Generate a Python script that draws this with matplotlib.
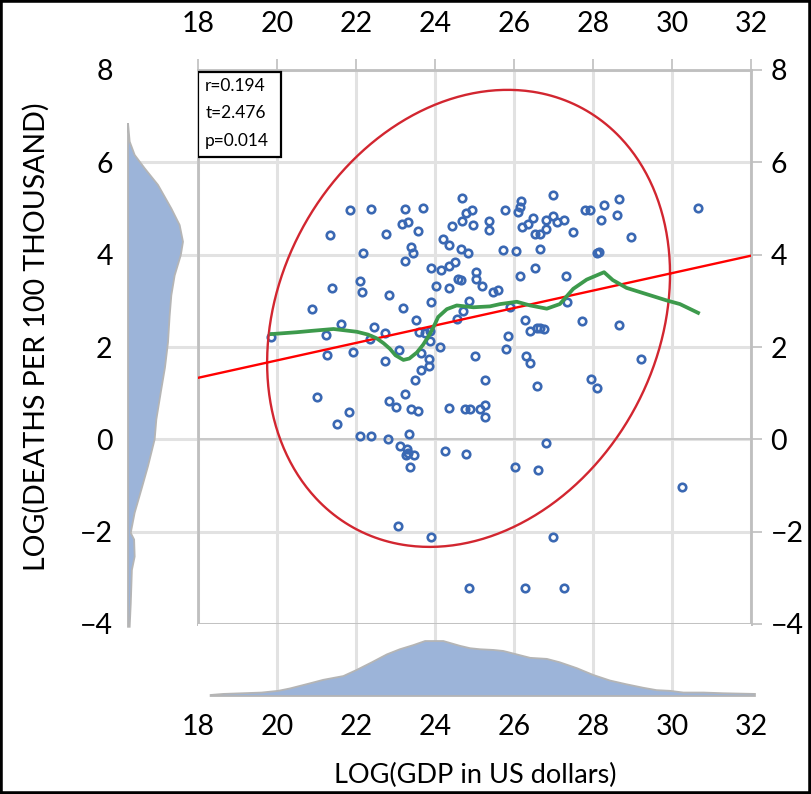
import numpy as np
import matplotlib
matplotlib.use("Agg")
import matplotlib.pyplot as plt
from matplotlib.patches import Rectangle

plt.rcParams['font.family'] = ['Lato', 'DejaVu Sans']

# ---------------- data ----------------
gdp_log = [21.86, 22.39, 23.24, 23.70, 24.69, 25.77, 23.16, 23.32, 24.79, 24.93,
           24.69, 24.96, 25.37, 25.37, 24.42, 23.57, 22.77, 21.35, 24.21, 24.35,
           23.39, 23.45, 23.24, 22.18, 24.66, 24.83, 25.73, 23.91, 24.15, 24.35,
           24.51, 25.03, 24.58, 24.66, 25.03, 25.20, 24.02, 24.35, 25.46, 25.60,
           22.09, 22.15, 21.38, 22.83, 23.91, 24.87, 20.88, 23.20,
           26.99, 26.18, 26.15, 26.10, 26.49, 26.36, 26.21, 26.80, 26.99, 27.08,
           27.27, 26.80, 26.54, 26.66, 27.49, 27.81, 27.92, 28.29, 28.65, 28.19,
           28.60, 28.95, 30.66, 26.04, 26.67, 28.11, 28.15, 26.54, 26.14, 27.32,
           27.35,
           23.51, 24.72, 24.55, 21.62, 22.46, 22.73, 21.24, 19.86, 22.35, 23.59,
           23.75, 23.87, 23.87, 24.12, 23.10, 23.65, 21.27, 21.92, 22.73, 23.84,
           23.85, 23.64, 23.50, 25.02, 25.26, 25.86, 25.81, 21.00, 23.23, 22.83,
           23.00, 23.39, 23.58, 21.82, 21.51, 24.35, 24.75, 24.89, 25.13, 25.26,
           25.26, 22.09, 22.39, 22.80, 23.33, 23.12, 23.28, 23.32, 23.27, 23.48,
           23.37, 24.25, 24.78, 23.06, 23.91, 24.86,
           25.90, 26.27, 26.41, 26.57, 26.67, 26.76, 27.73, 28.67, 26.31, 26.41,
           26.58, 27.94, 28.10, 29.22, 26.82, 26.03, 26.61, 30.25, 26.99, 26.28,
           27.26]
deaths_log = [4.96, 4.98, 4.98, 5.02, 5.22, 4.96, 4.67, 4.70, 4.91, 4.96,
              4.72, 4.65, 4.73, 4.53, 4.62, 4.52, 4.45, 4.42, 4.35, 4.21,
              4.16, 4.04, 3.87, 4.04, 4.12, 4.04, 4.10, 3.71, 3.67, 3.75,
              3.85, 3.62, 3.48, 3.46, 3.48, 3.33, 3.33, 3.28, 3.20, 3.23,
              3.42, 3.20, 3.28, 3.13, 2.97, 3.00, 2.83, 2.84,
              5.29, 5.16, 5.04, 4.93, 4.80, 4.67, 4.61, 4.75, 4.84, 4.70,
              4.76, 4.55, 4.44, 4.44, 4.50, 4.96, 4.96, 5.07, 5.20, 4.76,
              4.85, 4.38, 5.01, 4.07, 4.12, 4.04, 4.06, 3.72, 3.54, 3.54,
              2.97,
              2.58, 2.78, 2.61, 2.50, 2.44, 2.30, 2.26, 2.21, 2.17, 2.32,
              2.30, 2.35, 2.12, 2.01, 1.93, 1.88, 1.83, 1.90, 1.69, 1.75,
              1.59, 1.51, 1.29, 1.80, 1.28, 2.23, 1.95, 0.91, 0.99, 0.82,
              0.70, 0.65, 0.61, 0.59, 0.33, 0.67, 0.65, 0.65, 0.65, 0.74,
              0.49, 0.07, 0.07, 0.00, 0.12, -0.14, -0.22, -0.29, -0.35, -0.34,
              -0.61, -0.26, -0.31, -1.88, -2.11, -3.21,
              2.86, 2.58, 2.35, 2.41, 2.41, 2.40, 2.56, 2.47, 1.80, 1.65,
              1.16, 1.31, 1.11, 1.74, -0.08, -0.60, -0.66, -1.04, -2.11, -3.21,
              -3.21]

smooth_x = [19.86, 20.5, 20.88, 21.43, 22.02, 22.3, 22.52, 22.7, 22.86, 23.0,
            23.2, 23.35, 23.54, 23.7, 23.87, 24.0, 24.08, 24.3, 24.55, 24.97,
            25.39, 25.65, 26.07, 26.41, 26.83, 27.16, 27.5, 27.84, 28.28, 28.5,
            28.85, 29.86, 30.2, 30.66]
smooth_y = [2.28, 2.32, 2.35, 2.39, 2.33, 2.27, 2.19, 2.08, 1.96, 1.82,
            1.72, 1.75, 1.88, 2.05, 2.28, 2.50, 2.65, 2.82, 2.90, 2.86,
            2.88, 2.93, 2.98, 2.90, 2.83, 2.93, 3.26, 3.46, 3.62, 3.45,
            3.28, 3.01, 2.93, 2.74]

reg_intercept = -2.07
reg_slope = 0.189

ell_center = (24.85, 2.62)
ell_sd = (5.1, 4.95)
ell_r = 0.194

stats_text = ["r=0.194", "t=2.476", "p=0.014"]

x_ticks = [18, 20, 22, 24, 26, 28, 30, 32]
y_ticks = [-4, -2, 0, 2, 4, 6, 8]

gdp_density_x = [18.32, 18.64, 19.61, 20.03, 20.33, 20.84, 21.17, 21.68, 22.02, 22.40,
                 22.78, 23.11, 23.45, 23.75, 24.21, 24.63, 24.89, 25.14, 25.48, 25.73,
                 26.07, 26.41, 26.83, 27.16, 27.59, 28.01, 28.43, 28.85, 29.27, 29.61,
                 29.95, 30.29, 30.80, 31.30, 32.10]
gdp_density = [0.003, 0.006, 0.010, 0.015, 0.022, 0.037, 0.047, 0.058, 0.076, 0.098,
               0.121, 0.136, 0.148, 0.160, 0.160, 0.146, 0.139, 0.136, 0.134, 0.131,
               0.121, 0.111, 0.108, 0.098, 0.081, 0.061, 0.045, 0.034, 0.024, 0.017,
               0.015, 0.010, 0.010, 0.008, 0.006]

deaths_density_y = [-4.06, -3.55, -3.19, -2.83, -2.54, -2.17, -2.03, -1.96, -1.59, -1.09,
                    -0.58, 0.00, 0.43, 1.09, 1.55, 2.10, 2.68, 3.12, 3.55, 3.99,
                    4.28, 4.64, 5.00, 5.51, 5.87, 6.16, 6.45, 6.85]
deaths_density = [0.006, 0.010, 0.012, 0.014, 0.024, 0.022, 0.010, 0.012, 0.024, 0.048,
                  0.072, 0.096, 0.102, 0.120, 0.133, 0.144, 0.150, 0.156, 0.168, 0.190,
                  0.198, 0.186, 0.156, 0.108, 0.060, 0.024, 0.006, 0.0]

# ---------------- styles ----------------
GRID = '#E2E2E2'
SPINE = '#BFBFBF'
FILL = '#9CB4D9'
FILL_EDGE = '#B5B5B5'
TICK_FS = 20.5
XLABEL_FS = 19.5
YLABEL_FS = 20.5

fig = plt.figure(figsize=(8.11, 7.94), dpi=100)

main_rect = [198 / 811, 1 - 624 / 794, (751 - 198) / 811, (624 - 70) / 794]
ax = fig.add_axes(main_rect)
ax.set_xlim(18, 32)
ax.set_ylim(-4, 8)
ax.set_xticks(x_ticks)
ax.set_yticks(y_ticks)
ax.grid(True, color=GRID, lw=2.2)
ax.set_axisbelow(True)
ax.axhline(0, color='#C9C9C9', lw=1.4, zorder=0.6)
for s in ax.spines.values():
    s.set_color(SPINE)
    s.set_linewidth(2.0)
ax.tick_params(top=True, labeltop=True, bottom=False, labelbottom=False,
               left=False, labelleft=False, right=True, labelright=True,
               length=8, width=1.2, color=SPINE, labelsize=TICK_FS)
ax.tick_params(axis='x', pad=16)
ax.tick_params(axis='y', pad=6)

# scatter
ax.plot(gdp_log, deaths_log, 'o', mfc='none', mec='#3A68B3', ms=5.4, mew=1.9,
        zorder=3, clip_on=False)

# ellipse
t = np.linspace(0, 2 * np.pi, 500)
ex = ell_center[0] + ell_sd[0] * np.cos(t)
ey = ell_center[1] + ell_sd[1] * (ell_r * np.cos(t) + np.sqrt(1 - ell_r ** 2) * np.sin(t))
ax.plot(ex, ey, color='#D22630', lw=1.7, zorder=4)

# regression line
xr = np.array([18.0, 32.0])
ax.plot(xr, reg_intercept + reg_slope * xr, color='#FF0000', lw=1.7, zorder=4)

# smooth line
ax.plot(smooth_x, smooth_y, color='#3D9A4C', lw=2.7, zorder=4)

# stats box
ax.add_patch(Rectangle((0.0, 0.843), 0.150, 0.153, transform=ax.transAxes,
                       facecolor='white', edgecolor='black', lw=1.6, zorder=5))
for i, s in enumerate(stats_text):
    ax.text(0.013, 0.972 - i * 0.0505, s, transform=ax.transAxes, fontsize=12.5,
            ha='left', va='center', zorder=6)

# left density
axl = fig.add_axes([128 / 811, main_rect[1], (197 - 128) / 811, main_rect[3]])
axl.set_ylim(-4, 8)
axl.set_xlim(0, 0.2484)
axl.set_yticks(y_ticks)
axl.set_xticks([])
axl.grid(axis='y', color=GRID, lw=2.2)
axl.set_axisbelow(True)
gl = axl.get_ygridlines()
gl[0].set_visible(False)
gl[-1].set_visible(False)
for s in axl.spines.values():
    s.set_visible(False)
axl.tick_params(axis='y', length=0, pad=11, labelsize=TICK_FS)
ly = [deaths_density_y[0]] + deaths_density_y + [deaths_density_y[-1]]
lx = [0] + deaths_density + [0]
axl.fill(lx, ly, facecolor=FILL, edgecolor=FILL_EDGE, lw=1.3, clip_on=False, zorder=2)

# bottom density
axb = fig.add_axes([main_rect[0], 1 - 696 / 794, main_rect[2], (696 - 624) / 794])
axb.set_xlim(18, 32)
axb.set_ylim(0, 0.2095)
axb.set_xticks(x_ticks)
axb.set_yticks([])
axb.grid(axis='x', color=GRID, lw=2.2)
axb.set_axisbelow(True)
gl = axb.get_xgridlines()
gl[0].set_visible(False)
gl[-1].set_visible(False)
for s in axb.spines.values():
    s.set_visible(False)
axb.tick_params(axis='x', length=0, pad=13, labelsize=TICK_FS)
bx = [gdp_density_x[0]] + gdp_density_x + [gdp_density_x[-1]]
by = [0] + gdp_density + [0]
axb.fill(bx, by, facecolor=FILL, edgecolor=FILL_EDGE, lw=1.3, clip_on=False, zorder=2)

# axis titles
fig.text(475 / 811, 1 - 775 / 794, 'LOG(GDP in US dollars)', ha='center', va='center',
         fontsize=XLABEL_FS)
fig.text(36 / 811, 1 - 337 / 794, 'LOG(DEATHS PER 100 THOUSAND)', ha='center',
         va='center', rotation=90, fontsize=YLABEL_FS)

# figure border
fig.add_artist(Rectangle((0, 0), 1, 1, transform=fig.transFigure, fill=False,
                         edgecolor='black', lw=4))

fig.savefig('out.png', dpi=100)
